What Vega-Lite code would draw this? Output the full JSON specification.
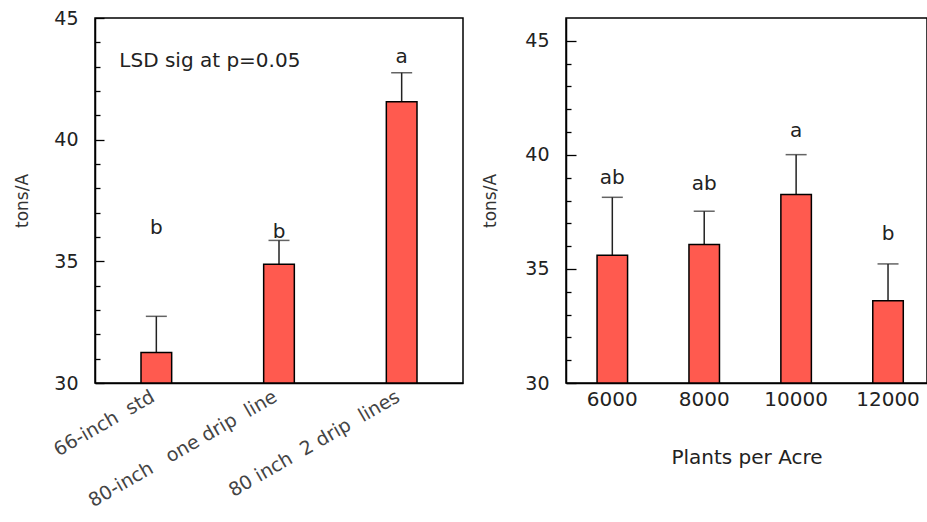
{
  "$schema": "https://vega.github.io/schema/vega-lite/v6.json",
  "padding": {"left": 13, "top": 8, "right": 0, "bottom": 0},
  "spacing": 17,
  "background": "white",
  "config": {
    "view": {"stroke": "black", "strokeWidth": 1.5},
    "font": "DejaVu Sans",
    "axis": {"domainColor": "black", "domainWidth": 1.5, "tickColor": "black", "tickWidth": 1.3, "labelFont": "DejaVu Sans", "labelColor": "#222", "titleFont": "DejaVu Sans", "titleFontWeight": "normal", "titleColor": "#333", "grid": false, "labelOverlap": false}
  },
  "hconcat": [
    {
      "width": 368,
      "height": 365,
      "data": {"values": [
        {"cat": "66-inch \u00a0std", "mean": 31.25, "upper": 32.74, "letter": "b", "ly": 36.37},
        {"cat": "80-inch \u00a0 one drip \u00a0line", "mean": 34.88, "upper": 35.86, "letter": "b", "ly": 36.2},
        {"cat": "80 inch \u00a02 drip \u00a0lines", "mean": 41.56, "upper": 42.75, "letter": "a", "ly": 43.4}
      ]},
      "resolve": {"axis": {"y": "independent"}},
      "encoding": {
        "x": {"field": "cat", "type": "nominal", "sort": null, "scale": {"paddingInner": 0.75, "paddingOuter": 0.375},
          "axis": {"title": null, "labelAngle": -30, "labelFontSize": 19, "labelColor": "#444", "ticks": false, "labelPadding": 4, "labelOffset": -8, "labelLimit": 400, "labelOverlap": false}}
      },
      "layer": [
        {"mark": {"type": "rule", "color": "#222", "strokeWidth": 1.5},
         "encoding": {
           "y": {"field": "upper", "type": "quantitative", "title": "tons/A", "scale": {"domain": [30, 45], "zero": false, "nice": false},
             "axis": {"orient": "left", "values": [30,35,40,45], "tickSize": -9,
               "labelOverlap": false,
               "labelFontSize": 19, "labelPadding": 26, "titleFontSize": 17, "titlePadding": 22}},
           "y2": {"field": "mean"}}},
        {"mark": {"type": "tick", "color": "#222", "thickness": 1.5, "size": 21},
         "encoding": {"y": {"field": "upper", "type": "quantitative", "title": null,
           "axis": {"orient": "left", "values": [31,32,33,34,36,37,38,39,41,42,43,44], "tickSize": -5, "labels": false, "domain": false, "title": null}}}},
        {"mark": {"type": "bar", "color": "#FF5A4F", "stroke": "black", "strokeWidth": 1.5},
         "encoding": {"y": {"field": "mean", "type": "quantitative", "axis": null}, "y2": {"datum": 30}}},
        {"mark": {"type": "text", "fontSize": 20, "color": "#222"},
         "encoding": {"y": {"field": "ly", "type": "quantitative", "axis": null}, "text": {"field": "letter"}}},
        {"data": {"values": [{"cat": "66-inch \u00a0std", "ly": 43.23, "note": "LSD sig at p=0.05"}]},
         "mark": {"type": "text", "align": "left", "dx": -37, "fontSize": 20, "color": "#222"},
         "encoding": {"y": {"field": "ly", "type": "quantitative", "axis": null}, "text": {"field": "note"}}}
      ]
    },
    {
      "width": 361,
      "height": 365,
      "data": {"values": [
        {"plants": "6000", "mean": 35.6, "upper": 38.14, "letter": "ab", "ly": 38.99},
        {"plants": "8000", "mean": 36.07, "upper": 37.53, "letter": "ab", "ly": 38.74},
        {"plants": "10000", "mean": 38.26, "upper": 40.01, "letter": "a", "ly": 41.05},
        {"plants": "12000", "mean": 33.61, "upper": 35.22, "letter": "b", "ly": 36.54}
      ]},
      "resolve": {"axis": {"y": "independent"}},
      "encoding": {
        "x": {"field": "plants", "type": "nominal", "sort": null, "scale": {"paddingInner": 0.668, "paddingOuter": 0.298, "align": 0.567},
          "axis": {"title": "Plants per Acre", "labelAngle": 0, "labelFontSize": 20, "ticks": false, "labelPadding": 6, "titleFontSize": 20, "titlePadding": 38, "titleColor": "#222", "labelOverlap": false}}
      },
      "layer": [
        {"mark": {"type": "rule", "color": "#222", "strokeWidth": 1.5},
         "encoding": {
           "y": {"field": "upper", "type": "quantitative", "title": "tons/A", "scale": {"domain": [30, 46], "zero": false, "nice": false},
             "axis": {"orient": "left", "values": [30,35,40,45], "tickSize": -10,
               "labelOverlap": false,
               "labelFontSize": 19, "labelPadding": 27, "titleFontSize": 17, "titlePadding": 25}},
           "y2": {"field": "mean"}}},
        {"mark": {"type": "tick", "color": "#222", "thickness": 1.5, "size": 21},
         "encoding": {"y": {"field": "upper", "type": "quantitative", "title": null,
           "axis": {"orient": "left", "values": [31,32,33,34,36,37,38,39,41,42,43,44], "tickSize": -5, "labels": false, "domain": false, "title": null}}}},
        {"mark": {"type": "bar", "color": "#FF5A4F", "stroke": "black", "strokeWidth": 1.5},
         "encoding": {"y": {"field": "mean", "type": "quantitative", "axis": null}, "y2": {"datum": 30}}},
        {"mark": {"type": "text", "fontSize": 20, "color": "#222"},
         "encoding": {"y": {"field": "ly", "type": "quantitative", "axis": null}, "text": {"field": "letter"}}}
      ]
    }
  ]
}
